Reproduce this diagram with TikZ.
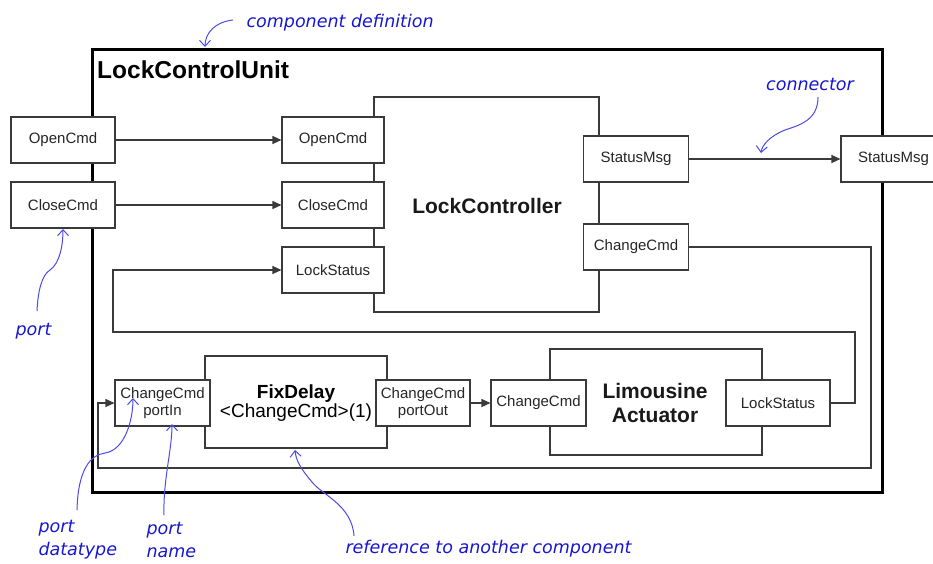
\documentclass[tikz,border=0pt]{standalone}
\usepackage{fontspec}
\setmainfont{Liberation Sans}
\newfontfamily\annfont{DejaVu Sans}
\usetikzlibrary{arrows.meta}

\definecolor{wire}{HTML}{3A3A3A}
\definecolor{annblue}{HTML}{1616D2}
\definecolor{annline}{HTML}{4B4BE8}

\begin{document}
\begin{tikzpicture}[x=1pt,y=-1pt,
  portbox/.style={draw=wire, line width=1.1pt, fill=white, minimum height=46pt,
    inner sep=0pt, font=\fontsize{15}{16.5}\selectfont, text=black!85, align=center},
  compbox/.style={draw=wire, line width=1.1pt, fill=white, inner sep=0pt},
  complabel/.style={font=\bfseries\fontsize{21}{24}\selectfont, align=center, text=black!90},
  flow/.style={draw=wire, line width=1.1pt, -{Triangle[length=9pt,width=8pt]}},
  note/.style={text=annblue, font=\annfont\itshape\fontsize{17.5}{23}\selectfont, align=left},
  notearrow/.style={draw=annline, line width=1pt, -{Straight Barb[length=6pt,width=11pt]}},
]
\useasboundingbox (0,0) rectangle (933,563);
\clip (0,0) rectangle (933,563);

% enclosing component definition
\draw[line width=3pt] (92,49) rectangle (882,492);
\node[font=\bfseries\fontsize{24.5}{28}\selectfont, anchor=west, inner sep=0pt] (title) at (97,70) {LockControlUnit};

% inner components
\node[compbox, minimum width=225pt, minimum height=215pt] (lc) at (486.5,204.5) {};
\node[complabel] (lcname) at (487,206) {LockController};
\node[compbox, minimum width=182pt, minimum height=92pt] (fd) at (296,402) {};
\node[align=center] (fdname) at (296,403)
  {\fontsize{19}{22}\selectfont\textbf{FixDelay}\\\fontsize{19}{22}\selectfont <ChangeCmd>(1)};
\node[compbox, minimum width=212pt, minimum height=106pt] (lim) at (656,402) {};
\node[complabel] (limname) at (655,403) {Limousine\\Actuator};

% wire junction points
\coordinate (ccA) at (871,247);
\coordinate (ccB) at (871,468);
\coordinate (ccC) at (98,468);
\coordinate (ccD) at (98,403);
\coordinate (lsA) at (855,403);
\coordinate (lsB) at (855,332);
\coordinate (lsC) at (113,332);
\coordinate (lsD) at (113,270);

% ports
\node[portbox, minimum width=104pt] (xOpen) at (63,140) {OpenCmd};
\node[portbox, minimum width=104pt] (xClose) at (63,205) {CloseCmd};
\node[portbox, minimum width=105pt] (xStatus) at (893.5,159) {StatusMsg};
\node[portbox, minimum width=102pt] (lcOpen) at (333,140) {OpenCmd};
\node[portbox, minimum width=102pt] (lcClose) at (333,205) {CloseCmd};
\node[portbox, minimum width=102pt] (lcLock) at (333,270) {LockStatus};
\node[portbox, minimum width=105pt] (lcStatus) at (636,159) {StatusMsg};
\node[portbox, minimum width=105pt] (lcChange) at (636,247) {ChangeCmd};
\node[portbox, minimum width=95pt] (fdIn) at (162.5,403) {ChangeCmd\\portIn};
\node[portbox, minimum width=94pt] (fdOut) at (423,403) {ChangeCmd\\portOut};
\node[portbox, minimum width=95pt] (limChange) at (538.5,403) {ChangeCmd};
\node[portbox, minimum width=104pt] (limStatus) at (778,403) {LockStatus};

% connectors between ports
\draw[flow] (xOpen) -- (lcOpen);
\draw[flow] (xClose) -- (lcClose);
\draw[flow] (lcStatus) -- (xStatus);
\draw[flow] (lcChange.east) -- (ccA) -- (ccB) -- (ccC) -- (ccD) -- (fdIn.west);
\draw[flow] (limStatus.east) -- (lsA) -- (lsB) -- (lsC) -- (lsD) -- (lcLock.west);
\draw[flow] (fdOut) -- (limChange);

% annotations
\node[note, anchor=west] (nDef) at (243,23) {component definition};
\node[note] (nConn) at (810,84) {connector};
\node[note, anchor=west] (nPort) at (12,331) {port};
\node[note, anchor=west] (nType) at (35,540) {port\\datatype};
\node[note, anchor=west] (nName) at (143,540) {port\\name};
\node[note, anchor=west] (nRef) at (342,549) {reference to another component};

\coordinate (tDef) at (205,47);
\coordinate (tConn) at (761,153);
\coordinate (tPort) at (63,229);
\coordinate (tType) at (133,398);
\coordinate (tName) at (172,424);
\coordinate (tRef) at (295,450);

\draw[notearrow] (233,20) .. controls (215,22) and (205,33) .. (tDef);
\draw[notearrow] (818,97) .. controls (818,120) and (800,125) .. (785,130)
  .. controls (770,136) and (762,145) .. (tConn);
\draw[notearrow] (37,311) .. controls (38,290) and (42,275) .. (50,270)
  .. controls (60,263) and (63,245) .. (tPort);
\draw[notearrow] (77,510) .. controls (78,470) and (90,455) .. (105,453)
  .. controls (125,450) and (133,420) .. (tType);
\draw[notearrow] (164,515) .. controls (163,480) and (172,450) .. (tName);
\draw[notearrow] (354,536) .. controls (352,505) and (322,495) .. (312,482)
  .. controls (300,468) and (296,460) .. (tRef);
\end{tikzpicture}
\end{document}
